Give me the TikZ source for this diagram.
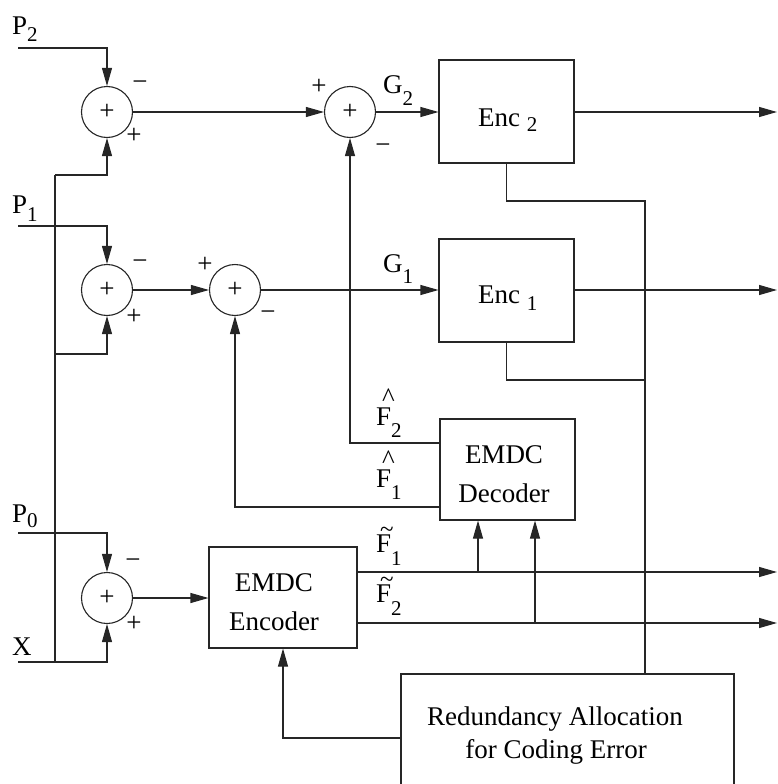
\documentclass[tikz,border=0pt]{standalone}
\usepackage{fontspec}
\setmainfont{Liberation Serif}
\usetikzlibrary{arrows.meta,calc}
\newcommand\lowsub[2]{\raisebox{-#1pt}{\fontsize{21}{21}\selectfont #2}}
\newcommand\hatF[1]{\makebox[0pt][l]{\hspace{6pt}\raisebox{19pt}{\textasciicircum}}F\lowsub{12}{#1}}
\newcommand\tilF[1]{\makebox[0pt][l]{\hspace{4pt}\raisebox{15pt}{\fontsize{25}{25}\selectfont\textasciitilde}}F\lowsub{13}{#1}}
\begin{document}
\begin{tikzpicture}[x=1pt,y=-1pt,
  every node/.style={font=\fontsize{27}{30}\selectfont, text=black},
  wire/.style={draw=black!85, line width=1.1pt},
  arr/.style={wire, -{Triangle[length=18pt,width=10pt]}},
  sum/.style={circle, draw=black!85, line width=1.1pt, minimum size=51pt, inner sep=0pt},
  blk/.style={rectangle, draw=black!85, line width=1.1pt, inner sep=0pt},
  lbl/.style={inner sep=0pt}]
\useasboundingbox (0,0) rectangle (777,784);
% summing junctions
\node[sum] (s2a) at (107,112) {+};
\node[sum] (s2b) at (350,112) {+};
\node[sum] (s1a) at (107,290) {+};
\node[sum] (s1b) at (235,290) {+};
\node[sum] (s0) at (107,598) {+};
% blocks
\node[blk, minimum width=135pt, minimum height=103pt] (enc2) at (506.5,111.5) {};
\node[blk, minimum width=135pt, minimum height=103pt] (enc1) at (506.5,290.5) {};
\node[blk, minimum width=135pt, minimum height=101pt] (dec) at (507.5,469.5) {};
\node[blk, minimum width=148pt, minimum height=101pt] (emenc) at (283,597.5) {};
\node[blk, minimum width=333pt, minimum height=140pt] (red) at (567.5,744) {};
% block texts
\node[lbl, anchor=base west] (tenc2) at (478,126) {Enc \lowsub{5}{2}};
\node[lbl, anchor=base west] (tenc1) at (478,303) {Enc \lowsub{7}{1}};
\node[lbl, anchor=base] (tdec1) at (504,463) {EMDC};
\node[lbl, anchor=base] (tdec2) at (504,502) {Decoder};
\node[lbl, anchor=base] (tenca) at (274,591) {EMDC};
\node[lbl, anchor=base] (tencb) at (274,630) {Encoder};
\node[lbl, anchor=base] (tred1) at (555,725) {Redundancy Allocation};
\node[lbl, anchor=base] (tred2) at (556,758) {for Coding Error};
% coordinates
\coordinate (p2) at (18,48);
\coordinate (p1) at (18,226);
\coordinate (p0) at (18,533);
\coordinate (xin) at (18,662);
\coordinate (bus0) at (55,662);
\coordinate (bus2) at (55,175);
\coordinate (bus1) at (55,354);
\coordinate (out2) at (777,112);
\coordinate (out1) at (777,290);
\coordinate (out3) at (777,572);
\coordinate (out4) at (777,623);
\coordinate (j1) at (478,572);
\coordinate (j2) at (535,623);
\coordinate (m2) at (645,201);
\coordinate (m1) at (645,380);
\coordinate (f2y) at (0,443);
\coordinate (f1y) at (0,507);
\coordinate (ry) at (0,738);
% connectors
\draw[arr] (p2) -| (s2a.north);
\draw[arr] (p1) -| (s1a.north);
\draw[arr] (p0) -| (s0.north);
\draw[arr] (xin) -| (s0.south);
\draw[wire] (bus0) -- (bus2);
\draw[arr] (bus2) -| (s2a.south);
\draw[arr] (bus1) -| (s1a.south);
\draw[arr] (s2a.east) -- (s2b.west);
\draw[arr] (s2b.east) -- (s2b.east -| enc2.west);
\draw[arr] (enc2.east |- out2) -- (out2);
\draw[arr] (s1a.east) -- (s1b.west);
\draw[arr] (s1b.east) -- (s1b.east -| enc1.west);
\draw[arr] (enc1.east |- out1) -- (out1);
\draw[arr] (dec.west |- f2y) -| (s2b.south);
\draw[arr] (dec.west |- f1y) -| (s1b.south);
\draw[arr] (s0.east) -- (s0.east -| emenc.west);
\draw[wire] (emenc.east |- out3) -- (j1);
\draw[arr] (j1) -- (out3);
\draw[wire] (emenc.east |- out4) -- (j2);
\draw[arr] (j2) -- (out4);
\draw[arr] (j1) -- (j1 |- dec.south);
\draw[arr] (j2) -- (j2 |- dec.south);
\draw[wire] (enc2.south) |- (m2) -- (m2 |- red.north);
\draw[wire] (enc1.south) |- (m1);
\draw[arr] (red.west |- ry) -| (emenc.south);
% signal labels
\node[lbl, anchor=base west] (lp2) at (12,35) {P\lowsub{7}{2}};
\node[lbl, anchor=base west] (lp1) at (12,213) {P\lowsub{8}{1}};
\node[lbl, anchor=base west] (lp0) at (12,522) {P\lowsub{5}{0}};
\node[lbl, anchor=base west] (lx) at (12,655) {X};
\node[lbl, anchor=base west] (lg2) at (383,93) {G\lowsub{12}{2}};
\node[lbl, anchor=base west] (lg1) at (383,272) {G\lowsub{11}{1}};
\node[lbl, anchor=base west] (lf2h) at (376,425) {\hatF{2}};
\node[lbl, anchor=base west] (lf1h) at (376,487) {\hatF{1}};
\node[lbl, anchor=base west] (lf1t) at (376,552) {\tilF{1}};
\node[lbl, anchor=base west] (lf2t) at (376,602) {\tilF{2}};
% signs
\node[lbl] (m2a) at (140,86) {−};
\node[lbl] (p2a) at (134,136) {+};
\node[lbl] (p2b) at (319,87) {+};
\node[lbl] (m2b) at (383,149) {−};
\node[lbl] (m1a) at (140,265) {−};
\node[lbl] (p1a) at (134,317) {+};
\node[lbl] (p1b) at (205,265) {+};
\node[lbl] (m1b) at (268,316) {−};
\node[lbl] (m0) at (133,564) {−};
\node[lbl] (p0s) at (134,624) {+};
\end{tikzpicture}
\end{document}
